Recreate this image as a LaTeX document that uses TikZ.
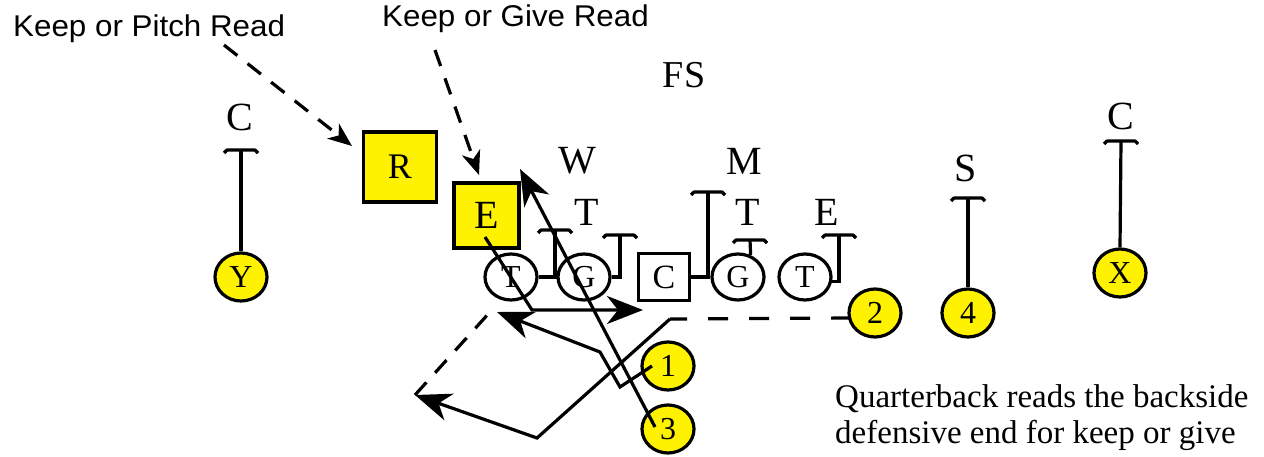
\documentclass[tikz,border=0pt]{standalone}
\usepackage{fontspec}
\usepackage{graphicx}
\setmainfont{Liberation Serif}
\newfontfamily\sansfam{Liberation Sans}
\usetikzlibrary{arrows.meta,shapes.geometric}
\newcommand\blkbar[1]{\draw[ln,line join=round] ([shift={(-17,3)}]#1) -- ([shift={(-14,0)}]#1) -- ([shift={(14,0)}]#1) -- ([shift={(17,3)}]#1);}
\begin{document}
\begin{tikzpicture}[x=1pt,y=-1pt,
  ln/.style={line width=3.2pt},
  lbl/.style={inner sep=0pt,font=\fontsize{40}{44}\selectfont},
  ol/.style={ellipse,draw,line width=3.2pt,minimum width=52pt,minimum height=46pt,inner sep=0pt,font=\fontsize{32}{34}\selectfont},
  bk/.style={ol,fill=yellow,minimum height=48pt},
  sq/.style={rectangle,draw,line width=3.4pt,fill=yellow,inner sep=0pt,font=\fontsize{40}{44}\selectfont},
  big/.style={-{Stealth[length=36pt,width=28pt,inset=11pt]}},
  small/.style={-{Stealth[length=24pt,width=19pt,inset=7pt]}},
  dsh/.style={dash pattern=on 17pt off 13pt},
  note/.style={inner sep=0pt,font=\sansfam\fontsize{30}{32}\selectfont}
]
\useasboundingbox (0,0) rectangle (1264,457);

% read labels
\node[note,anchor=base west] (kp) at (13,37) {\scalebox{1.045}[1]{Keep or Pitch Read}};
\node[note,anchor=base west] (kg) at (382,27) {\scalebox{1.045}[1]{Keep or Give Read}};

% defenders
\node[lbl] (cl) at (240,117) {C};
\node[lbl,font=\fontsize{38}{42}\selectfont] (fs) at (684,75) {FS};
\node[lbl] (w) at (577,161) {W};
\node[lbl] (m) at (744,161) {M};
\node[lbl] (dt1) at (587,212) {T};
\node[lbl] (dt2) at (748,212) {T};
\node[lbl] (de) at (827,212) {E};
\node[lbl] (s) at (966,168) {S};
\node[lbl] (cr) at (1121,116) {C};

\node[sq,minimum width=73pt,minimum height=70pt,font=\fontsize{36}{40}\selectfont] (R) at (400,167) {R};
\node[sq,minimum width=65pt,minimum height=65pt] (E) at (486.5,215.5) {E};

% offense
\node[ol] (T1) at (511,277) {T};
\node[ol] (G1) at (584,277) {G};
\node[rectangle,draw,line width=3.2pt,minimum width=51pt,minimum height=47pt,inner sep=0pt,font=\fontsize{34}{36}\selectfont] (C) at (664,277) {C};
\node[ol] (G2) at (738,277) {G};
\node[ol] (T2) at (805,277) {T};

\node[bk] (Y) at (241,277) {Y};
\node[bk] (X) at (1120,273) {X};
\node[bk] (b2) at (875,313) {2};
\node[bk] (b4) at (968,313) {4};
\node[bk] (b1) at (668,366) {1};
\node[bk] (b3) at (668,429) {3};

% block coordinates
\coordinate (yb) at (241,150);
\coordinate (xb) at (1121,141);
\coordinate (sb) at (968,198);
\coordinate (tb) at (555,230);
\coordinate (gb) at (620,235);
\coordinate (mb) at (708,192);
\coordinate (g2b) at (750,240);
\coordinate (eb) at (839,235);

\draw[ln] (Y.north) -- (yb); \blkbar{yb}
\draw[ln] (X.north) -- (xb); \blkbar{xb}
\draw[ln] (b4.north) -- (sb); \blkbar{sb}
\draw[ln] (T1.east) -| (tb); \blkbar{tb}
\draw[ln] (G1.east) -| (gb); \blkbar{gb}
\draw[ln] (C.east) -| (mb); \blkbar{mb}
\draw[ln] (G2.60) -- (g2b); \blkbar{g2b}
\draw[ln] (T2.-10) -| (eb); \blkbar{eb}

% read arrows
\coordinate (kp1) at (224,45);
\coordinate (kp2) at (352,146);
\coordinate (kg1) at (435,50);
\coordinate (kg2) at (479,175);
\draw[ln,dsh,small] (kp1) -- (kp2);
\draw[ln,dsh,small] (kg1) -- (kg2);

% E route
\coordinate (e1) at (485,237);
\coordinate (e2) at (532,310);
\coordinate (e3) at (643,310);
\draw[ln,big] (e1) -- (e2) -- (e3);

% 3 route
\coordinate (t1) at (655,427);
\coordinate (t2) at (520,169);
\draw[ln,big] (t1) -- (t2);

% 1 route
\coordinate (o1) at (652,366);
\coordinate (o2) at (620,387);
\coordinate (o3) at (600,352);
\coordinate (o4) at (497,312);
\draw[ln,big] (o1) -- (o2) -- (o3) -- (o4);

% 2 route
\coordinate (p0) at (851,318);
\coordinate (p1) at (670,319);
\coordinate (p2) at (537,438);
\coordinate (p3) at (415,395);
\coordinate (p5) at (490,312);
\draw[ln,dash pattern=on 20pt off 21pt] (p0) -- (p1);
\draw[ln,big] (p1) -- (p2) -- (p3);
\draw[ln,dsh] (p3) -- (p5);

% note
\node[inner sep=0pt,anchor=north west,align=left,font=\fontsize{33}{36}\selectfont] (qb) at (835,384.5) {Quarterback reads the backside\\defensive end for keep or give};
\end{tikzpicture}
\end{document}
